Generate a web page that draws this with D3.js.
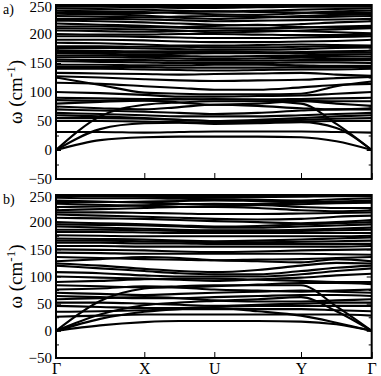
<!DOCTYPE html>
<meta charset="utf-8">
<script src="https://d3js.org/d3.v7.min.js"></script>
<style>
  body { margin: 0; background: #fff; }
</style>
<div id="chart"></div>
<script>

// path length along the k-path at the high symmetry points
const symLabels = ["\u0393", "X", "U", "Y", "\u0393"]
const symK = [0, 88.3, 158.3, 245, 315.7]
// sample points: every symmetry point and the midpoint between them
const sampleK = []
symK.forEach((k, i) => {
  sampleK.push(k)
  if (i < symK.length - 1) sampleK.push((k + symK[i + 1]) / 2)
})

const yTicks = [-50, 0, 50, 100, 150, 200, 250]

// panel a: frequencies (cm-1) at G, G-X, X, X-U, U, U-Y, Y, Y-G, G
const bandsA = [
  [249,249,248,248,247,248,249,249,249],
  [247,247,246,245,245,246,247,247,247],
  [244,243,242,240,239,240,242,243,244],
  [240,239,238,236,234,233,236,239,240],
  [237,236,236,238,239,238,237,236,236],
  [235,234,232,228,226,228,231,233,234],
  [231,230,229,230,231,230,229,230,231],
  [226,226,225,224,222,223,224,225,226],
  [223,222,220,218,216,215,217,220,222],
  [218,216,214,212,214,216,212,211,211],
  [213,213,212,211,210,210,211,213,214],
  [210,209,208,206,203,204,206,208,210],
  [206,205,204,205,206,207,205,203,201],
  [200,199,199,200,200,199,198,198,199],
  [196,196,195,194,193,193,194,195,196],
  [190,190,189,187,186,186,187,188,190],
  [185,184,182,180,180,181,182,181,180],
  [179,179,178,178,177,177,178,179,179],
  [176,176,175,174,173,173,174,176,177],
  [172,171,170,170,170,169,168,168,168],
  [169,169,168,168,168,168,169,170,171],
  [167,166,165,166,167,167,166,165,165],
  [163,163,162,162,161,162,162,162,161],
  [160,160,159,158,157,158,159,158,157],
  [156,155,155,154,154,154,155,155,155],
  [153,152,151,150,150,150,151,151,150],
  [147,147,146,146,147,147,146,145,145],
  [143,143,143,142,142,142,143,143,143],
  [140,140,139,138,137,138,139,139,140],
  [133,132,131,130,131,132,133,130,128],
  [127,125,122,120,119,120,121,124,126],
  [125,112,99,97,96,96,97,110,118],
  [116,114,110,107,104,104,108,112,114],
  [100,98,95,92,92,93,94,97,100],
  [90,89,88,88,87,87,88,89,90],
  [86,85,86,87,88,87,85,84,84],
  [80,83,85,82,78,80,84,80,76],
  [75,72,70,74,78,76,72,70,72],
  [70,68,66,64,62,64,68,70,70],
  [64,62,60,58,58,58,60,62,64],
  [60,58,55,52,50,52,55,58,60],
  [55,55,54,52,50,50,52,54,55],
  [50,50,49,48,47,48,49,50,50],
  [31,31,30,31,32,32,32,31,30],
  [0,17,22,23,23,23,22,15,0],
  [0,36,46,47,45,46,48,38,0],
  [0,58,78,82,84,84,80,45,0]
]

// panel b: same sampling
const bandsB = [
  [249,249,249,248,248,248,249,249,249],
  [248,248,247,246,245,246,247,248,248],
  [245,244,244,243,242,241,240,242,244],
  [240,238,236,234,232,234,236,238,240],
  [237,237,238,239,240,239,238,237,237],
  [234,232,230,228,229,231,233,235,236],
  [228,229,231,233,234,232,228,226,226],
  [222,224,226,228,228,226,222,220,222],
  [218,218,217,216,215,215,216,217,218],
  [214,212,210,208,206,205,206,210,212],
  [208,207,206,204,202,200,198,200,204],
  [200,198,196,194,192,193,196,198,200],
  [196,195,194,192,190,190,192,194,196],
  [192,190,188,186,185,185,186,188,190],
  [186,186,185,184,184,184,184,185,186],
  [182,182,181,180,180,180,180,180,180],
  [176,175,174,174,174,174,174,174,175],
  [170,169,168,166,165,166,168,170,172],
  [166,166,165,164,163,163,164,165,166],
  [162,162,161,161,160,160,160,160,160],
  [156,156,155,155,155,155,155,155,156],
  [150,149,148,146,145,146,148,149,150],
  [144,143,142,142,142,142,142,141,140],
  [136,134,132,131,130,131,132,134,136],
  [128,132,136,134,130,128,126,132,128],
  [124,120,114,110,108,112,120,125,124],
  [120,115,110,106,104,104,110,116,120],
  [108,106,102,100,100,100,104,110,115],
  [100,98,96,94,92,95,98,102,105],
  [90,92,95,96,96,94,92,90,90],
  [84,82,80,80,82,85,88,88,86],
  [76,78,82,80,76,74,72,74,76],
  [70,68,66,68,70,72,74,72,70],
  [64,62,60,60,62,64,66,66,64],
  [58,60,62,60,56,54,54,56,58],
  [52,52,50,48,46,48,50,52,52],
  [46,44,42,42,44,46,46,46,46],
  [35,36,38,40,40,40,40,38,36],
  [26,28,30,30,30,30,30,30,28],
  [0,10,16,18,18,18,17,12,0],
  [0,22,35,40,42,36,28,15,0],
  [0,30,47,52,55,58,62,36,0],
  [0,55,78,82,84,84,84,45,0]
]

const panels = [
  {name: "a)", bands: bandsA, top: 5, bottom: 179},
  {name: "b)", bands: bandsB, top: 195, bottom: 358}
]

const serif = "Liberation Serif"
const width = 381
const height = 376
const left = 56
const right = 371.7

const svg = d3.select("#chart")
  .append("svg")
    .attr("width", width)
    .attr("height", height)

const x = d3.scaleLinear()
  .domain([0, symK[symK.length - 1]])
  .range([left, right])

panels.forEach((p, pi) => {
  const y = d3.scaleLinear()
    .domain([-50, 250])
    .range([p.bottom, p.top])

  const g = svg.append("g")

  g.append("clipPath")
    .attr("id", "clip" + pi)
    .append("rect")
      .attr("x", left)
      .attr("y", p.top)
      .attr("width", right - left)
      .attr("height", p.bottom - p.top)

  const line = d3.line()
    .x((d, i) => x(sampleK[i]))
    .y(d => y(d))
    .curve(d3.curveMonotoneX)

  g.append("g")
    .attr("clip-path", "url(#clip" + pi + ")")
    .selectAll("path")
    .data(p.bands)
    .join("path")
      .attr("d", line)
      .attr("fill", "none")
      .attr("stroke", "black")
      .attr("stroke-width", 2.1)

  // y axis, ticks pointing inward, on both sides
  const minor = d3.range(-25, 250, 50)
  g.append("g")
    .attr("transform", `translate(${left},0)`)
    .call(d3.axisLeft(y).tickValues(yTicks).tickSize(-5).tickPadding(3))
    .call(a => a.select(".domain").remove())
    .call(a => a.selectAll("text").style("font-size", "15px").attr("dx", "-1")
      .attr("dy", d => d === 250 ? "0.42em" : "0.32em"))
  g.append("g")
    .attr("transform", `translate(${left},0)`)
    .call(d3.axisLeft(y).tickValues(minor).tickSize(-3).tickFormat(""))
    .call(a => a.select(".domain").remove())
  g.append("g")
    .attr("transform", `translate(${right},0)`)
    .call(d3.axisRight(y).tickValues(yTicks).tickSize(-5).tickFormat(""))
    .call(a => a.select(".domain").remove())
  g.append("g")
    .attr("transform", `translate(${right},0)`)
    .call(d3.axisRight(y).tickValues(minor).tickSize(-3).tickFormat(""))
    .call(a => a.select(".domain").remove())

  // x axis ticks at the symmetry points
  const xa = g.append("g")
    .attr("transform", `translate(0,${p.bottom})`)
    .call(d3.axisBottom(x).tickValues(symK).tickSize(-6)
      .tickFormat((d, i) => pi === 1 ? symLabels[i] : ""))
    .call(a => a.select(".domain").remove())
  xa.selectAll("text")
    .style("font-size", "16px")
    .attr("y", 15.5)
    .attr("dy", 0)

  g.selectAll(".tick line").attr("stroke", "black").attr("stroke-width", 1)
  g.selectAll(".tick text").attr("fill", "black")

  // frame
  g.append("rect")
    .attr("x", left)
    .attr("y", p.top)
    .attr("width", right - left)
    .attr("height", p.bottom - p.top)
    .attr("fill", "none")
    .attr("stroke", "black")
    .attr("stroke-width", 2)

  g.append("text")
    .attr("x", 3)
    .attr("y", p.top + 9)
    .style("font-size", "14px")
    .text(p.name)

  const mid = (p.top + p.bottom) / 2
  const lab = g.append("text")
    .attr("transform", `translate(22,${mid}) rotate(-90)`)
    .attr("text-anchor", "middle")
    .style("font-size", "19px")
  lab.append("tspan").text("\u03c9 (cm")
  lab.append("tspan").attr("dy", -7).style("font-size", "13px").text("-1")
  lab.append("tspan").attr("dy", 7).text(")")

  g.selectAll("text").style("font-family", serif)
})

</script>
